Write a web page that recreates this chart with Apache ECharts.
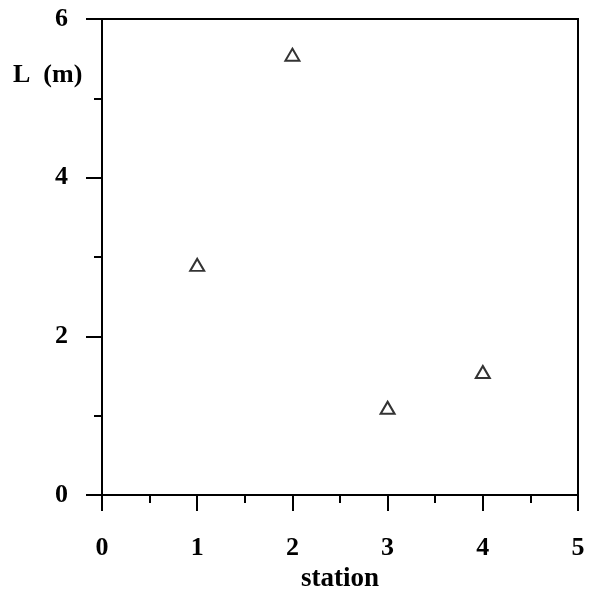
<!DOCTYPE html>
<html>
<head>
<meta charset="utf-8">
<script src="https://cdn.jsdelivr.net/npm/echarts@6/dist/echarts.min.js"></script>
<style>
  html, body { margin: 0; padding: 0; background: #fff; }
  #chart { width: 589px; height: 598px; }
</style>
</head>
<body>
<div id="chart"></div>
<script>
// Station number and measured length L (m)
const stations = [1, 2, 3, 4];
const lengths = [2.9, 5.55, 1.1, 1.55];
const xTicks = [0, 1, 2, 3, 4, 5];
const yTicks = [0, 2, 4, 6];

const FONT = '"Liberation Serif", "Times New Roman", serif';
const SIZE = 26;

const chart = echarts.init(document.getElementById('chart'), null, { renderer: 'canvas' });

const axisCommon = {
  axisLine: { show: true, onZero: false, lineStyle: { color: '#000', width: 2 } },
  axisTick: { show: true, inside: false, length: 16, lineStyle: { color: '#000', width: 2 } },
  minorTick: { show: true, splitNumber: 2, length: 8, lineStyle: { color: '#000', width: 2 } },
  splitLine: { show: false },
  axisLabel: { color: '#000', fontFamily: FONT, fontWeight: 'bold', fontSize: SIZE }
};

chart.setOption({
  backgroundColor: '#fff',
  animation: false,
  grid: { left: 102, right: 11, top: 19, bottom: 102, show: true, borderColor: '#000', borderWidth: 2 },
  xAxis: Object.assign({}, axisCommon, {
    type: 'value',
    min: xTicks[0], max: xTicks[xTicks.length - 1], interval: 1,
    name: 'station',
    nameLocation: 'middle',
    nameGap: 71,
    nameTextStyle: { color: '#000', fontFamily: FONT, fontWeight: 'bold', fontSize: 27 },
    axisLabel: Object.assign({}, axisCommon.axisLabel, { margin: 40 })
  }),
  yAxis: Object.assign({}, axisCommon, {
    type: 'value',
    min: yTicks[0], max: yTicks[yTicks.length - 1], interval: 2,
    axisLabel: Object.assign({}, axisCommon.axisLabel, { margin: 34 })
  }),
  graphic: [{
    type: 'text',
    left: 13,
    top: 62,
    style: { text: 'L  (m)', fill: '#000', font: 'bold ' + SIZE + 'px ' + FONT }
  }],
  series: [{
    type: 'scatter',
    data: stations.map((s, i) => [s, lengths[i]]),
    symbol: 'triangle',
    symbolSize: [14, 12],
    itemStyle: { color: 'rgba(0,0,0,0)', borderColor: '#000', borderWidth: 2 }
  }]
});
</script>
</body>
</html>
